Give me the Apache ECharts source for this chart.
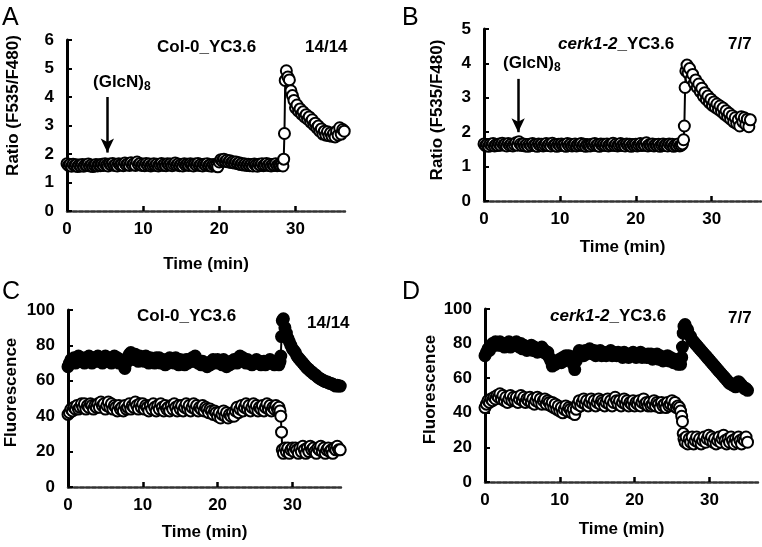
<!DOCTYPE html>
<html>
<head>
<meta charset="utf-8">
<script src="https://cdn.jsdelivr.net/npm/echarts@6/dist/echarts.min.js"></script>
<style>html,body{margin:0;padding:0;background:#fff}#c{width:762px;height:547px}</style>
</head>
<body>
<div id="c"></div>
<script>
// ---- Data (times in min) ----
const timesAC = [0,0.2,0.4,0.6,0.8,1,1.2,1.4,1.6,1.8,
2,2.2,2.4,2.6,2.8,3,3.2,3.4,3.6,3.8,
4,4.2,4.4,4.6,4.8,5,5.2,5.4,5.6,5.8,
6,6.2,6.4,6.6,6.8,7,7.2,7.4,7.6,7.8,
8,8.2,8.4,8.6,8.8,9,9.2,9.4,9.6,9.8,
10,10.2,10.4,10.6,10.8,11,11.2,11.4,11.6,11.8,
12,12.2,12.4,12.6,12.8,13,13.2,13.4,13.6,13.8,
14,14.2,14.4,14.6,14.8,15,15.2,15.4,15.6,15.8,
16,16.2,16.4,16.6,16.8,17,17.2,17.4,17.6,17.8,
18,18.2,18.4,18.6,18.8,19,19.2,19.4,19.6,19.8,
20,20.2,20.4,20.6,20.8,21,21.2,21.4,21.6,21.8,
22,22.2,22.4,22.6,22.8,23,23.2,23.4,23.6,23.8,
24,24.2,24.4,24.6,24.8,25,25.2,25.4,25.6,25.8,
26,26.2,26.4,26.6,26.8,27,27.2,27.4,27.6,27.8,
28,
28.2,28.35,28.45,28.55,28.65,28.8,29,29.2,29.4,29.6,29.8,30,
30.2,30.4,30.6,30.8,31,31.2,31.4,31.6,31.8,32,
32.2,32.4,32.6,32.8,33,33.2,33.4,33.6,33.8,34,
34.2,34.4,34.6,34.8,35,35.2,35.4,35.6,35.8,36,
36.2,36.4];

const ratioA = [1.66,1.60,1.63,1.57,1.64,1.59,1.62,1.56,1.61,1.58,
1.63,1.57,1.62,1.60,1.65,1.58,1.61,1.56,1.60,1.63,
1.58,1.62,1.59,1.64,1.60,1.66,1.61,1.58,1.65,1.62,
1.67,1.60,1.63,1.58,1.66,1.61,1.64,1.59,1.68,1.62,
1.65,1.60,1.69,1.62,1.66,1.60,1.72,1.63,1.67,1.60,
1.64,1.59,1.67,1.61,1.65,1.58,1.62,1.66,1.60,1.64,
1.58,1.63,1.67,1.60,1.64,1.59,1.66,1.62,1.65,1.59,
1.64,1.68,1.61,1.65,1.59,1.63,1.58,1.66,1.61,1.64,
1.60,1.66,1.62,1.58,1.65,1.61,1.67,1.60,1.63,1.58,
1.64,1.61,1.66,1.59,1.62,1.57,1.63,1.60,1.58,1.55,
1.72,1.80,1.76,1.82,1.74,1.78,1.72,1.76,1.70,1.73,
1.68,1.72,1.66,1.69,1.63,1.67,1.61,1.65,1.60,1.64,
1.59,1.63,1.58,1.65,1.61,1.57,1.64,1.60,1.66,1.59,
1.62,1.67,1.60,1.64,1.58,1.63,1.60,1.66,1.59,1.62,
1.60,
1.64,1.58,1.82,2.72,4.58,4.92,4.70,4.60,4.22,4.05,3.88,3.62,
3.72,3.50,3.58,3.40,3.48,3.30,3.38,3.22,3.30,3.12,
3.20,3.02,3.08,2.92,2.98,2.80,2.88,2.70,2.80,2.66,
2.78,2.64,2.74,2.62,2.72,2.60,2.80,2.66,2.92,2.70,
2.86,2.80];

const openC = [41,42,44,43,45,44,46,44,45,47,
45,47,44,46,45,47,46,44,46,45,
47,45,48,46,47,44,46,48,45,47,
44,46,45,43,46,44,45,43,46,44,
45,47,44,46,45,48,46,44,47,45,
47,44,46,45,43,46,44,47,45,43,
46,44,47,45,43,46,44,45,43,46,
44,47,45,43,46,44,46,43,45,47,
44,46,43,45,47,44,46,43,45,44,
46,43,45,44,42,44,43,41,43,42,
40,42,39,41,43,40,42,39,41,40,
42,40,43,45,42,44,46,43,45,47,
44,46,43,45,47,44,46,43,45,44,
46,43,45,47,44,46,43,45,44,46,
44,
45,43,40,31,21,19,22,20,22,19,21,22,
20,22,21,19,22,20,23,21,19,22,
20,23,21,22,20,19,22,21,23,20,
22,19,21,22,20,21,19,22,21,23,
21,21];

const filledC = [68,70,72,71,73,70,72,74,71,73,
72,70,73,71,74,72,70,73,71,72,
74,71,73,70,72,74,71,73,72,70,
72,74,71,73,70,72,71,69,67,70,
73,75,76,74,72,75,73,71,74,72,
73,71,74,72,70,73,71,72,70,73,
71,73,70,72,71,69,72,70,73,71,
72,70,73,71,69,72,70,71,69,72,
70,72,71,73,71,74,72,70,71,69,
71,69,70,68,70,69,71,72,70,71,
72,70,71,69,72,70,68,70,69,71,
70,72,71,70,73,74,72,73,71,70,
72,70,71,69,71,70,72,70,71,69,
70,71,69,71,70,72,70,71,69,70,
70,
69,71,74,85,94,95,90,87,84,82,80,78,
77,76,74,73,72,71,70,69,68,67,
66.5,65.5,65,64,63.5,63,62,61.5,61,60.5,
60,59.5,59.5,59,58.5,58.5,58,57.5,57,57.5,
57,57];

const timesBD = [0,0.2,0.4,0.6,0.8,1,1.2,1.4,1.6,1.8,
2,2.2,2.4,2.6,2.8,3,3.2,3.4,3.6,3.8,
4,4.2,4.4,4.6,4.8,5,5.2,5.4,5.6,5.8,
6,6.2,6.4,6.6,6.8,7,7.2,7.4,7.6,7.8,
8,8.2,8.4,8.6,8.8,9,9.2,9.4,9.6,9.8,
10,10.2,10.4,10.6,10.8,11,11.2,11.4,11.6,11.8,
12,12.2,12.4,12.6,12.8,13,13.2,13.4,13.6,13.8,
14,14.2,14.4,14.6,14.8,15,15.2,15.4,15.6,15.8,
16,16.2,16.4,16.6,16.8,17,17.2,17.4,17.6,17.8,
18,18.2,18.4,18.6,18.8,19,19.2,19.4,19.6,19.8,
20,20.2,20.4,20.6,20.8,21,21.2,21.4,21.6,21.8,
22,22.2,22.4,22.6,22.8,23,23.2,23.4,23.6,23.8,
24,24.2,24.4,24.6,24.8,25,25.2,25.4,25.6,25.8,
26,
26.15,26.3,26.4,26.5,26.6,26.75,26.9,27.1,27.3,27.5,27.7,27.9,28.1,
28.3,28.5,28.7,28.9,29.1,29.3,29.5,29.7,29.9,30.1,
30.3,30.5,30.7,30.9,31.1,31.3,31.5,31.7,31.9,32.1,
32.3,32.5,32.7,32.9,33.1,33.3,33.5,33.7,33.9,34.1,
34.3,34.5,34.7,34.9,35.1];

const ratioB = [1.66,1.61,1.64,1.59,1.65,1.62,1.67,1.60,1.64,1.61,
1.66,1.62,1.68,1.63,1.65,1.60,1.67,1.62,1.65,1.60,
1.64,1.69,1.62,1.72,1.65,1.61,1.66,1.60,1.64,1.59,
1.65,1.61,1.67,1.62,1.64,1.59,1.66,1.62,1.65,1.60,
1.63,1.67,1.61,1.65,1.60,1.68,1.62,1.64,1.59,1.65,
1.61,1.66,1.62,1.64,1.59,1.67,1.61,1.65,1.60,1.63,
1.66,1.60,1.64,1.62,1.67,1.61,1.65,1.59,1.64,1.62,
1.60,1.65,1.62,1.67,1.61,1.64,1.59,1.66,1.62,1.65,
1.61,1.66,1.60,1.64,1.62,1.68,1.61,1.65,1.60,1.63,
1.67,1.61,1.64,1.60,1.66,1.62,1.65,1.59,1.64,1.61,
1.65,1.60,1.63,1.67,1.61,1.65,1.62,1.69,1.60,1.64,
1.62,1.66,1.60,1.64,1.61,1.65,1.59,1.63,1.66,1.61,
1.64,1.60,1.66,1.62,1.65,1.59,1.63,1.61,1.66,1.60,
1.62,
1.66,1.78,2.18,3.30,3.78,3.95,3.72,3.85,3.55,3.68,3.42,3.52,3.30,
3.40,3.18,3.28,3.05,3.15,2.95,3.05,2.86,2.96,2.78,
2.88,2.72,2.82,2.66,2.76,2.60,2.70,2.52,2.62,2.45,
2.55,2.38,2.48,2.30,2.42,2.25,2.36,2.18,2.45,2.30,
2.42,2.22,2.38,2.16,2.36];

const openD = [43,45,47,46,48,47,49,48,50,49,
51,48,50,47,49,46,48,50,47,49,
47,49,46,48,50,47,49,46,48,47,
49,46,48,45,47,49,46,48,45,47,
48,45,47,46,44,46,43,45,42,44,
41,43,40,42,44,41,43,42,40,42,
39,42,45,47,44,46,48,45,47,44,
46,48,45,47,44,46,48,45,47,46,
44,46,48,45,47,44,46,49,47,45,
47,44,46,48,45,47,44,46,45,47,
44,46,45,47,44,46,48,45,46,44,
46,44,45,47,44,46,45,43,46,44,
45,43,46,44,45,47,44,46,43,44,
43,
41,38,35,28,25,23,26,22,25,23,26,22,24,
26,23,25,22,24,26,23,25,27,24,
26,23,25,22,24,26,23,25,27,24,
22,25,23,26,24,22,25,23,26,24,
22,25,24,26,23];

const filledD = [73,75,77,76,78,80,79,81,80,79,
81,79,80,78,80,79,81,78,80,79,
80,81,79,78,80,77,79,78,76,78,
77,79,76,78,77,75,77,76,78,75,
76,74,75,72,70,67,69,68,70,69,
71,69,72,70,73,71,73,72,70,68,
65,70,74,76,74,75,73,76,74,75,
77,75,74,76,73,75,74,76,73,75,
74,73,75,74,76,73,75,74,73,75,
73,74,72,75,73,74,72,74,73,75,
73,72,74,73,75,72,74,73,72,74,
72,74,71,73,72,74,71,73,72,70,
72,71,73,70,72,71,69,71,70,68,
69,
68,72,78,86,90,91,89,88,85,84,82,81,80,
79,78,77,76,75,74,73,72,71,70,
69,68,67,66,65,64,63,62,61,60,
59,58,57,57,56,56,55,57,58,57,
56,55,54,54,53];

const xTicks = [0,10,20,30];
const ratioATicks = [0,1,2,3,4,5,6];
const ratioBTicks = [0,1,2,3,4,5];
const fluorTicks = [0,20,40,60,80,100];

// ---- Chart ----
const FONT = '"Liberation Sans", Arial, sans-serif';
const chart = echarts.init(document.getElementById('c'), null, {renderer: 'canvas'});

function pairs(t, v) { return t.map((x, i) => [x, v[i]]); }

function xAxis(gi, gap) {
  return {
    type: 'value', gridIndex: gi, min: 0, max: 36.5,
    name: 'Time (min)', nameLocation: 'middle', nameGap: gap,
    nameTextStyle: {fontFamily: FONT, fontWeight: 'bold', fontSize: 17, color: '#000'},
    axisLine: {show: true, onZero: false, lineStyle: {color: '#333', width: 2.5, type: [4, 2]}},
    axisTick: {show: true, inside: true, length: 5, customValues: xTicks, lineStyle: {color: '#000', width: 2.5}},
    axisLabel: {show: true, customValues: xTicks, margin: 10, fontFamily: FONT, fontWeight: 'bold', fontSize: 17, color: '#000'},
    splitLine: {show: false}
  };
}
function yAxis(gi, max, interval, ticks, name, gap, shift) {
  return {
    type: 'value', gridIndex: gi, min: 0, max: max, interval: interval,
    name: name, nameLocation: 'middle', nameGap: gap,
    nameTextStyle: {fontFamily: FONT, fontWeight: 'bold', fontSize: 17, color: '#000', padding: [0, 0, 0, shift]},
    axisLine: {show: true, lineStyle: {color: '#000', width: 3}},
    axisTick: {show: true, inside: true, length: 5, customValues: ticks, lineStyle: {color: '#000', width: 2}},
    axisLabel: {show: true, customValues: ticks, margin: 13, fontFamily: FONT, fontWeight: 'bold', fontSize: 17, color: '#000'},
    splitLine: {show: false}
  };
}
function series(xi, data, filled, extra) {
  const s = {
    type: 'line', xAxisIndex: xi, yAxisIndex: xi, data: data,
    symbol: 'circle', symbolSize: 11, showAllSymbol: true,
    lineStyle: {color: '#000', width: 2},
    itemStyle: {color: filled ? '#000' : '#fff', borderColor: '#000', borderWidth: 2},
    emphasis: {disabled: true}, silent: true, animation: false
  };
  return Object.assign(s, extra || {});
}
function arrow(x, y1, y2) {
  return {
    silent: true, animation: false, symbol: ['none', 'arrow'], symbolSize: [10, 14],
    lineStyle: {color: '#000', width: 2.5, type: 'solid'}, label: {show: false},
    data: [[{coord: [x, y1]}, {coord: [x, y2]}]]
  };
}
const txt = {fontFamily: FONT, fontWeight: 'bold', fontSize: 17, color: '#000'};
const letter = {fontFamily: FONT, fontWeight: 'normal', fontSize: 25, color: '#000'};
const glcRich = {
  text: '{a|(GlcN)}{s|8}',
  textStyle: {rich: {
    a: {fontFamily: FONT, fontWeight: 'bold', fontSize: 17, color: '#000', lineHeight: 20},
    s: {fontFamily: FONT, fontWeight: 'bold', fontSize: 12, color: '#000', lineHeight: 20, padding: [9, 0, 0, 0]}
  }}
};
const cerkRich = {
  text: '{i|cerk1-2}{n|_YC3.6}',
  textStyle: {rich: {
    i: {fontFamily: FONT, fontWeight: 'bold', fontStyle: 'italic', fontSize: 17, color: '#000'},
    n: {fontFamily: FONT, fontWeight: 'bold', fontSize: 17, color: '#000'}
  }}
};

const option = {
  backgroundColor: '#fff',
  animation: false,
  title: [
    {text: 'A', left: 2, top: 6, padding: 0, textStyle: letter},
    {text: 'Col-0_YC3.6', left: 157, top: 39, padding: 0, textStyle: txt},
    {text: '14/14', left: 305, top: 39, padding: 0, textStyle: txt},
    Object.assign({left: 93, top: 72, padding: 0}, glcRich),
    {text: 'B', left: 402, top: 6, padding: 0, textStyle: letter},
    Object.assign({left: 558, top: 36, padding: 0}, cerkRich),
    {text: '7/7', left: 728, top: 36, padding: 0, textStyle: txt},
    Object.assign({left: 503, top: 53, padding: 0}, glcRich),
    {text: 'C', left: 2, top: 280, padding: 0, textStyle: letter},
    {text: 'Col-0_YC3.6', left: 137, top: 308, padding: 0, textStyle: txt},
    {text: '14/14', left: 307, top: 315, padding: 0, textStyle: txt},
    {text: 'D', left: 402, top: 280, padding: 0, textStyle: letter},
    Object.assign({left: 550, top: 308, padding: 0}, cerkRich),
    {text: '7/7', left: 728, top: 310, padding: 0, textStyle: txt}
  ],
  grid: [
    {left: 67, top: 40, width: 278, height: 171},
    {left: 484, top: 29, width: 277, height: 172},
    {left: 68, top: 310, width: 273, height: 177},
    {left: 485, top: 309, width: 273, height: 173}
  ],
  xAxis: [xAxis(0, 45), xAxis(1, 38), xAxis(2, 37), xAxis(3, 39)],
  yAxis: [
    yAxis(0, 6, 1, ratioATicks, 'Ratio (F535/F480)', 45, 40),
    yAxis(1, 5, 1, ratioBTicks, 'Ratio (F535/F480)', 38, 10),
    yAxis(2, 100, 20, fluorTicks, 'Fluorescence', 48, 12),
    yAxis(3, 100, 20, fluorTicks, 'Fluorescence', 46, 12)
  ],
  series: [
    series(0, pairs(timesAC, ratioA), false, {markLine: arrow(5.3, 4.0, 2.05)}),
    series(1, pairs(timesBD, ratioB), false, {markLine: arrow(4.5, 3.55, 2.0)}),
    series(2, pairs(timesAC, filledC), true),
    series(2, pairs(timesAC, openC), false),
    series(3, pairs(timesBD, filledD), true),
    series(3, pairs(timesBD, openD), false)
  ]
};
chart.setOption(option);
</script>
</body>
</html>
